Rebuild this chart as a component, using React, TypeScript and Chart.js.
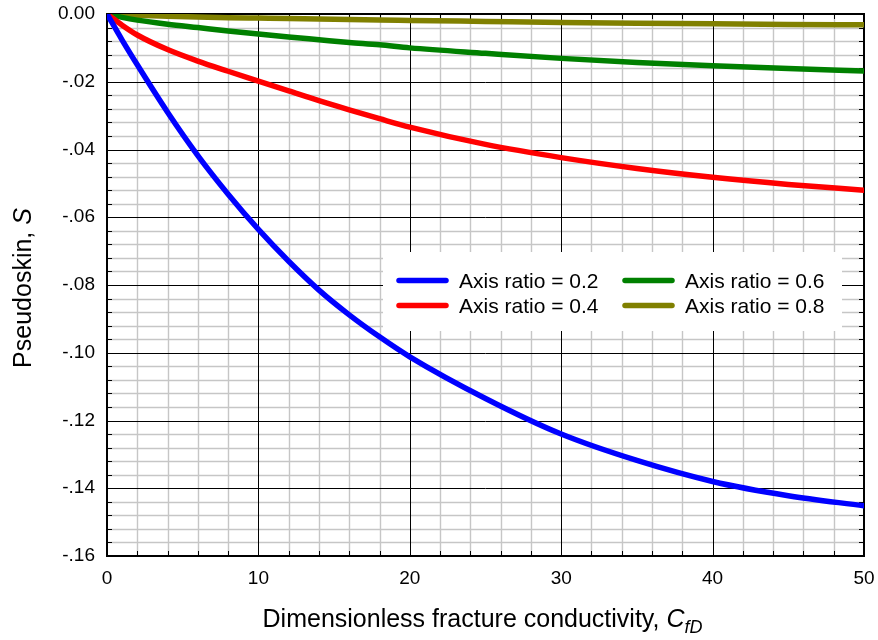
import React, { useEffect, useRef } from "react";
import { Chart, registerables } from "chart.js";

Chart.register(...registerables);

// Dimensionless fracture conductivity, CfD
const cfd = [0, 1, 2, 4, 6, 8, 10, 12, 14, 16, 18, 20, 25, 30, 35, 40, 45, 50];
// Pseudoskin for each axis ratio
const sRatio02 = [0, -0.0077, -0.015, -0.029, -0.0418, -0.0532, -0.0636, -0.073, -0.0815, -0.0888, -0.0953, -0.1012, -0.1135, -0.124, -0.1318, -0.138, -0.1422, -0.1452];
const sRatio04 = [0, -0.0033, -0.0062, -0.0105, -0.0139, -0.0169, -0.0198, -0.0227, -0.0256, -0.0283, -0.0309, -0.0334, -0.0385, -0.0424, -0.0456, -0.0482, -0.0503, -0.052];
const sRatio06 = [0, -0.001, -0.0018, -0.003, -0.004, -0.005, -0.0059, -0.0068, -0.0076, -0.0084, -0.0091, -0.01, -0.0116, -0.0131, -0.0143, -0.0153, -0.0161, -0.0168];
const sRatio08 = [0, -0.0002, -0.0004, -0.0007, -0.0009, -0.0011, -0.0012, -0.0013, -0.0015, -0.0016, -0.0018, -0.0019, -0.0022, -0.0025, -0.0027, -0.0029, -0.0031, -0.0032];

const seriesLabels = ["Axis ratio = 0.2", "Axis ratio = 0.4", "Axis ratio = 0.6", "Axis ratio = 0.8"];
const seriesColors = ["#0000ff", "#ff0000", "#008000", "#808000"];

const xTickLabels = ["0", "10", "20", "30", "40", "50"];
const yTickLabels = ["0.00", "-.02", "-.04", "-.06", "-.08", "-.10", "-.12", "-.14", "-.16"];

const FONT = '"Liberation Sans", Arial, Helvetica, sans-serif';

const isMajorX = (v: number) => Math.abs(v / 10 - Math.round(v / 10)) < 1e-6;
const isMajorY = (v: number) => Math.abs(v / 0.02 - Math.round(v / 0.02)) < 1e-6;

const gridPlugin = {
  id: "customGrid",
  beforeDatasetsDraw(chart: any) {
    const { ctx, chartArea: ca, scales } = chart;
    const x = scales.x;
    const y = scales.y;
    ctx.save();
    ctx.lineWidth = 1;
    const vline = (px: number, y0: number, y1: number) => {
      ctx.beginPath();
      ctx.moveTo(px, y0);
      ctx.lineTo(px, y1);
      ctx.stroke();
    };
    const hline = (py: number, x0: number, x1: number) => {
      ctx.beginPath();
      ctx.moveTo(x0, py);
      ctx.lineTo(x1, py);
      ctx.stroke();
    };
    // minor grid
    ctx.strokeStyle = "#c6c6c6";
    ctx.lineWidth = 1.4;
    x.ticks.forEach((t: any) => {
      if (!isMajorX(t.value)) vline(Math.round(x.getPixelForValue(t.value)) + 0.5, ca.top, ca.bottom);
    });
    y.ticks.forEach((t: any) => {
      if (!isMajorY(t.value)) hline(Math.round(y.getPixelForValue(t.value)) + 0.5, ca.left, ca.right);
    });
    // major grid
    ctx.strokeStyle = "#000000";
    ctx.lineWidth = 1;
    x.ticks.forEach((t: any) => {
      if (isMajorX(t.value)) vline(Math.round(x.getPixelForValue(t.value)) + 0.5, ca.top, ca.bottom);
    });
    y.ticks.forEach((t: any) => {
      if (isMajorY(t.value)) hline(Math.round(y.getPixelForValue(t.value)) + 0.5, ca.left, ca.right);
    });
    // inner tick marks
    const tl = 5;
    x.ticks.forEach((t: any) => {
      const px = Math.round(x.getPixelForValue(t.value)) + 0.5;
      vline(px, ca.bottom, ca.bottom - tl);
      vline(px, ca.top, ca.top + tl);
    });
    y.ticks.forEach((t: any) => {
      const py = Math.round(y.getPixelForValue(t.value)) + 0.5;
      hline(py, ca.left, ca.left + tl);
      hline(py, ca.right, ca.right - tl);
    });
    // frame
    ctx.lineWidth = 2;
    ctx.strokeRect(ca.left, ca.top, ca.right - ca.left, ca.bottom - ca.top);
    ctx.restore();
  },
};

const legendPlugin = {
  id: "insideLegend",
  afterDatasetsDraw(chart: any) {
    const { ctx, chartArea: ca } = chart;
    const bx = ca.left + 276;
    const by = ca.top + 238;
    ctx.save();
    ctx.fillStyle = "#ffffff";
    ctx.fillRect(bx, by, 459, 79);
    ctx.font = `21px ${FONT}`;
    ctx.textBaseline = "alphabetic";
    ctx.textAlign = "left";
    chart.data.datasets.forEach((ds: any, i: number) => {
      const col = Math.floor(i / 2);
      const row = i % 2;
      const sx = bx + 14 + col * 226;
      const sy = by + 28.5 + row * 25;
      ctx.strokeStyle = ds.borderColor;
      ctx.lineWidth = 5.5;
      ctx.lineCap = "round";
      ctx.beginPath();
      ctx.moveTo(sx + 2, sy);
      ctx.lineTo(sx + 49, sy);
      ctx.stroke();
      ctx.fillStyle = "#000000";
      ctx.fillText(ds.label, sx + 62, sy + 7);
    });
    ctx.restore();
  },
};

const titlePlugin = {
  id: "axisTitles",
  afterDraw(chart: any) {
    const { ctx, chartArea: ca } = chart;
    ctx.save();
    ctx.fillStyle = "#000000";
    ctx.textBaseline = "alphabetic";
    ctx.textAlign = "left";
    // X title
    const xMain = "Dimensionless fracture conductivity, ";
    const fMain = `25px ${FONT}`;
    const fIt = `italic 25px ${FONT}`;
    const fSub = `italic 18px ${FONT}`;
    ctx.font = fMain;
    const w1 = ctx.measureText(xMain).width;
    ctx.font = fIt;
    const w2 = ctx.measureText("C").width;
    ctx.font = fSub;
    const w3 = ctx.measureText("fD").width;
    const total = w1 + w2 + w3;
    let sx = (ca.left + ca.right) / 2 - total / 2 - 3;
    const base = 627;
    ctx.font = fMain;
    ctx.fillText(xMain, sx, base);
    sx += w1;
    ctx.font = fIt;
    ctx.fillText("C", sx, base);
    sx += w2;
    ctx.font = fSub;
    ctx.fillText("fD", sx, base + 6);

    // Y title
    const yMain = "Pseudoskin, ";
    ctx.font = fMain;
    const v1 = ctx.measureText(yMain).width;
    ctx.font = fIt;
    const v2 = ctx.measureText("S").width;
    const vt = v1 + v2;
    ctx.translate(31, (ca.top + ca.bottom) / 2 + 3);
    ctx.rotate(-Math.PI / 2);
    ctx.font = fMain;
    ctx.fillText(yMain, -vt / 2, 0);
    ctx.font = fIt;
    ctx.fillText("S", -vt / 2 + v1, 0);
    ctx.restore();
  },
};

const zeroPad = (s: any) => {
  s.paddingTop = 0;
  s.paddingBottom = 0;
  s.paddingLeft = 0;
  s.paddingRight = 0;
};

export default function App() {
  const ref = useRef<HTMLCanvasElement>(null);
  useEffect(() => {
    if (!ref.current) return;
    const series = [sRatio02, sRatio04, sRatio06, sRatio08];
    const chart = new Chart(ref.current, {
      type: "line",
      data: {
        datasets: series.map((s, i) => ({
          label: seriesLabels[i],
          data: cfd.map((x, j) => ({ x, y: s[j] })),
          borderColor: seriesColors[i],
          backgroundColor: seriesColors[i],
          borderWidth: 5.5,
          borderCapStyle: "round",
          borderJoinStyle: "round",
          pointRadius: 0,
          fill: false,
          cubicInterpolationMode: "monotone",
        })),
      },
      options: {
        responsive: false,
        devicePixelRatio: 1,
        animation: false,
        events: [],
        layout: { padding: { top: 14, right: 14, left: 0, bottom: 0 } },
        plugins: {
          legend: { display: false },
          tooltip: { enabled: false },
          title: { display: false },
        },
        scales: {
          x: {
            type: "linear",
            min: 0,
            max: 50,
            grid: { display: false, drawTicks: false },
            border: { display: false },
            afterFit: (s: any) => {
              s.height = 84;
              zeroPad(s);
            },
            ticks: {
              stepSize: 2,
              autoSkip: false,
              maxRotation: 0,
              padding: 11,
              color: "#000000",
              font: { family: FONT, size: 19 },
              callback: (v: any) => (isMajorX(Number(v)) ? xTickLabels[Math.round(Number(v) / 10)] : ""),
            },
          },
          y: {
            type: "linear",
            min: -0.16,
            max: 0,
            grid: { display: false, drawTicks: false },
            border: { display: false },
            afterFit: (s: any) => {
              s.width = 107;
              zeroPad(s);
            },
            ticks: {
              stepSize: 0.004,
              autoSkip: false,
              padding: 12,
              color: "#000000",
              font: { family: FONT, size: 19 },
              callback: (v: any) => (isMajorY(Number(v)) ? yTickLabels[Math.round(-Number(v) / 0.02)] : ""),
            },
          },
        },
      },
      plugins: [gridPlugin, legendPlugin, titlePlugin],
    } as any);
    return () => chart.destroy();
  }, []);
  return (
    <div style={{ position: "absolute", left: 0, top: 0, width: 878, height: 640, background: "#ffffff" }}>
      <canvas ref={ref} width={878} height={640} style={{ display: "block", width: 878, height: 640 }} />
    </div>
  );
}
